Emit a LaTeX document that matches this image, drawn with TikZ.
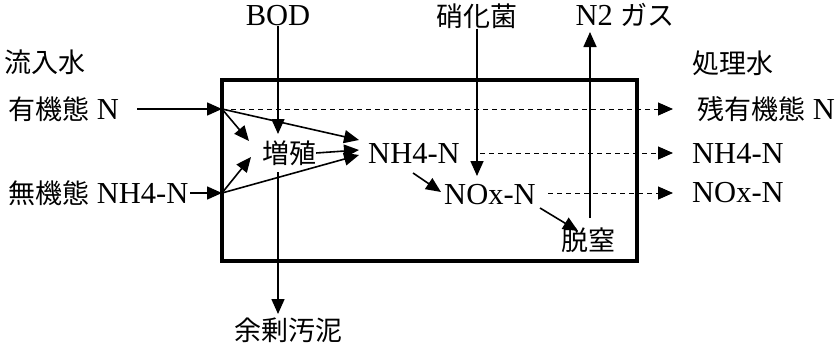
\documentclass[tikz,border=0pt]{standalone}
\usepackage{fontspec}
\setmainfont{Liberation Serif}[Scale=1.13]
\newfontfamily\cjk{Noto Sans CJK JP}
\usetikzlibrary{arrows.meta}
\begin{document}
\begin{tikzpicture}[x=1pt,y=-1pt,
  lbl/.style={inner sep=0pt,font=\fontsize{27}{32}\selectfont},
  arr/.style={line width=1.6pt,-{Triangle[length=15pt,width=13pt]}},
  darr/.style={line width=1pt,dash pattern=on 5pt off 4pt,-{Triangle[length=15pt,width=13pt]}},
  tank/.style={line width=3.5pt}]
\useasboundingbox (0,0) rectangle (838,348);
% tank
\draw[tank] (222,80) rectangle (637,261);
% labels
\node[lbl] (inflow) at (45,62) {\cjk 流入水};
\node[lbl,anchor=west] (orgN) at (8,109) {{\cjk 有機態} N};
\node[lbl,anchor=west] (inorgN) at (8,193) {{\cjk 無機態} NH4-N};
\node[lbl] (bod) at (278,16) {BOD};
\node[lbl] (growth) at (289,153) {\cjk 増殖};
\node[lbl] (nh4) at (414,153) {NH4-N};
\node[lbl] (nitr) at (477,16) {\cjk 硝化菌};
\node[lbl] (nox) at (490,195) {NOx-N};
\node[lbl] (denit) at (588,240) {\cjk 脱窒};
\node[lbl] (n2) at (625,15) {N2 {\cjk ガス}};
\node[lbl] (sludge) at (288,330) {\cjk 余剰汚泥};
\node[lbl] (outflow) at (733,63) {\cjk 処理水};
\node[lbl,anchor=west] (resid) at (697,109) {{\cjk 残有機態} N};
\node[lbl,anchor=west] (nh4out) at (692,153) {NH4-N};
\node[lbl,anchor=west] (noxout) at (692,193) {NOx-N};
% junctions
\coordinate (A) at (222,109);
\coordinate (B) at (222,193);
\coordinate (gtop) at (278,134);
\coordinate (gin1) at (249,141);
\coordinate (gin2) at (251,157);
\coordinate (nin1) at (359,140);
\coordinate (nin2) at (359,150);
\coordinate (nin3) at (359,155);
% inflows
\draw[arr] (137,109) -- (A);
\draw[arr] (190,193) -- (B);
\draw[arr] (A) -- (gin1);
\draw[arr] (B) -- (gin2);
\draw[arr] (A) -- (nin1);
\draw[arr] (B) -- (nin3);
\draw[arr] (growth.east) -- (nin2);
\draw[arr] (bod.south) -- (gtop);
\draw[arr] (278,172) -- (278,314);
\draw[arr] (nitr.south) -- (477,176);
\draw[arr] (413,173) -- (441,192);
\draw[arr] (540,208) -- (578,231);
\draw[arr] (590,218) -- (590,32);
% outflows
\draw[darr] (A) -- (673,109);
\draw[darr] (480,153) -- (673,153);
\draw[darr] (548,193) -- (673,193);
\end{tikzpicture}
\end{document}
